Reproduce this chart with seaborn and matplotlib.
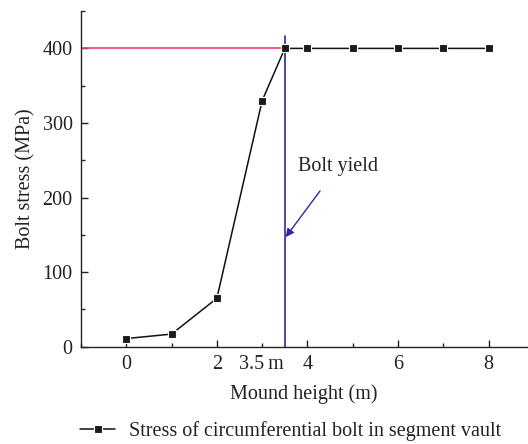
import matplotlib
matplotlib.use("Agg")
import matplotlib.pyplot as plt
from matplotlib.ticker import MultipleLocator, FixedLocator
import seaborn as sns
import pandas as pd

# Mound height (m) and circumferential bolt stress (MPa)
heights = [0, 1, 2, 3, 3.5, 4, 5, 6, 7, 8]
stress = [11, 17, 65, 330, 400, 400, 400, 400, 400, 400]
series_name = "Stress of circumferential bolt in segment vault"
yield_stress = 400
yield_height = 3.5
x_ticks = [0, 2, 4, 6, 8]
y_ticks = [0, 100, 200, 300, 400]

sns.set_theme(style="ticks")
plt.rcParams["font.family"] = ["Liberation Serif", "DejaVu Serif"]

FS = 14.5
TXT = "#222222"

df = pd.DataFrame({"height": heights, "stress": stress})

fig = plt.figure(figsize=(5.28, 4.44), dpi=100)
ax = fig.add_axes([0.1534, 0.219, 0.845, 0.756])

# Yield stress level and the height where the bolt yields
ax.plot([-1, yield_height], [yield_stress, yield_stress], color="#ee3a7c", lw=1.2, zorder=1)
ax.plot([yield_height, yield_height], [0, 416], color="#2e2a9a", lw=1.2, zorder=1)

sns.lineplot(data=df, x="height", y="stress", ax=ax, color="#111111", lw=1.1,
             marker="s", markersize=6, markerfacecolor="#1a1a1a",
             markeredgecolor="white", markeredgewidth=0.8, label=series_name,
             legend=False, zorder=3)

ax.annotate("Bolt yield", xy=(yield_height + 0.02, 147), xytext=(4.67, 241),
            ha="center", va="center", fontsize=FS, color=TXT,
            arrowprops=dict(arrowstyle="-|>", color="#2e2a9a", lw=1.0,
                            mutation_scale=12, shrinkA=10, shrinkB=0))

ax.set_xlim(-1, 8.85)
ax.set_ylim(0, 450)
ax.xaxis.set_major_locator(FixedLocator(x_ticks))
ax.xaxis.set_minor_locator(MultipleLocator(1))
ax.yaxis.set_major_locator(FixedLocator(y_ticks))
ax.yaxis.set_minor_locator(MultipleLocator(50))
ax.tick_params(which="major", direction="in", length=5, width=1, labelsize=FS,
               colors=TXT, pad=6)
ax.tick_params(which="minor", direction="in", length=3, width=1)

# Extra label marking the yield height on the x axis
ax.annotate("3.5\u2009m", xy=(yield_height, 0), xycoords=("data", "axes fraction"),
            xytext=(-1, -6), textcoords="offset points", ha="right", va="top",
            fontsize=FS, color=TXT, annotation_clip=False)

ax.set_xlabel("Mound height (m)", fontsize=FS, color=TXT, labelpad=7)
ax.set_ylabel("Bolt stress (MPa)", fontsize=FS, color=TXT, labelpad=5)

sns.despine(ax=ax)
for s in ("left", "bottom"):
    ax.spines[s].set_color(TXT)
    ax.spines[s].set_linewidth(1.0)

handles, labels = ax.get_legend_handles_labels()
fig.legend(handles, labels, loc="center", bbox_to_anchor=(0.55, 0.03),
           frameon=False, fontsize=FS, handlelength=1.75, handletextpad=0.65,
           labelcolor=TXT, borderpad=0, borderaxespad=0)

fig.savefig("out.png", dpi=100)
